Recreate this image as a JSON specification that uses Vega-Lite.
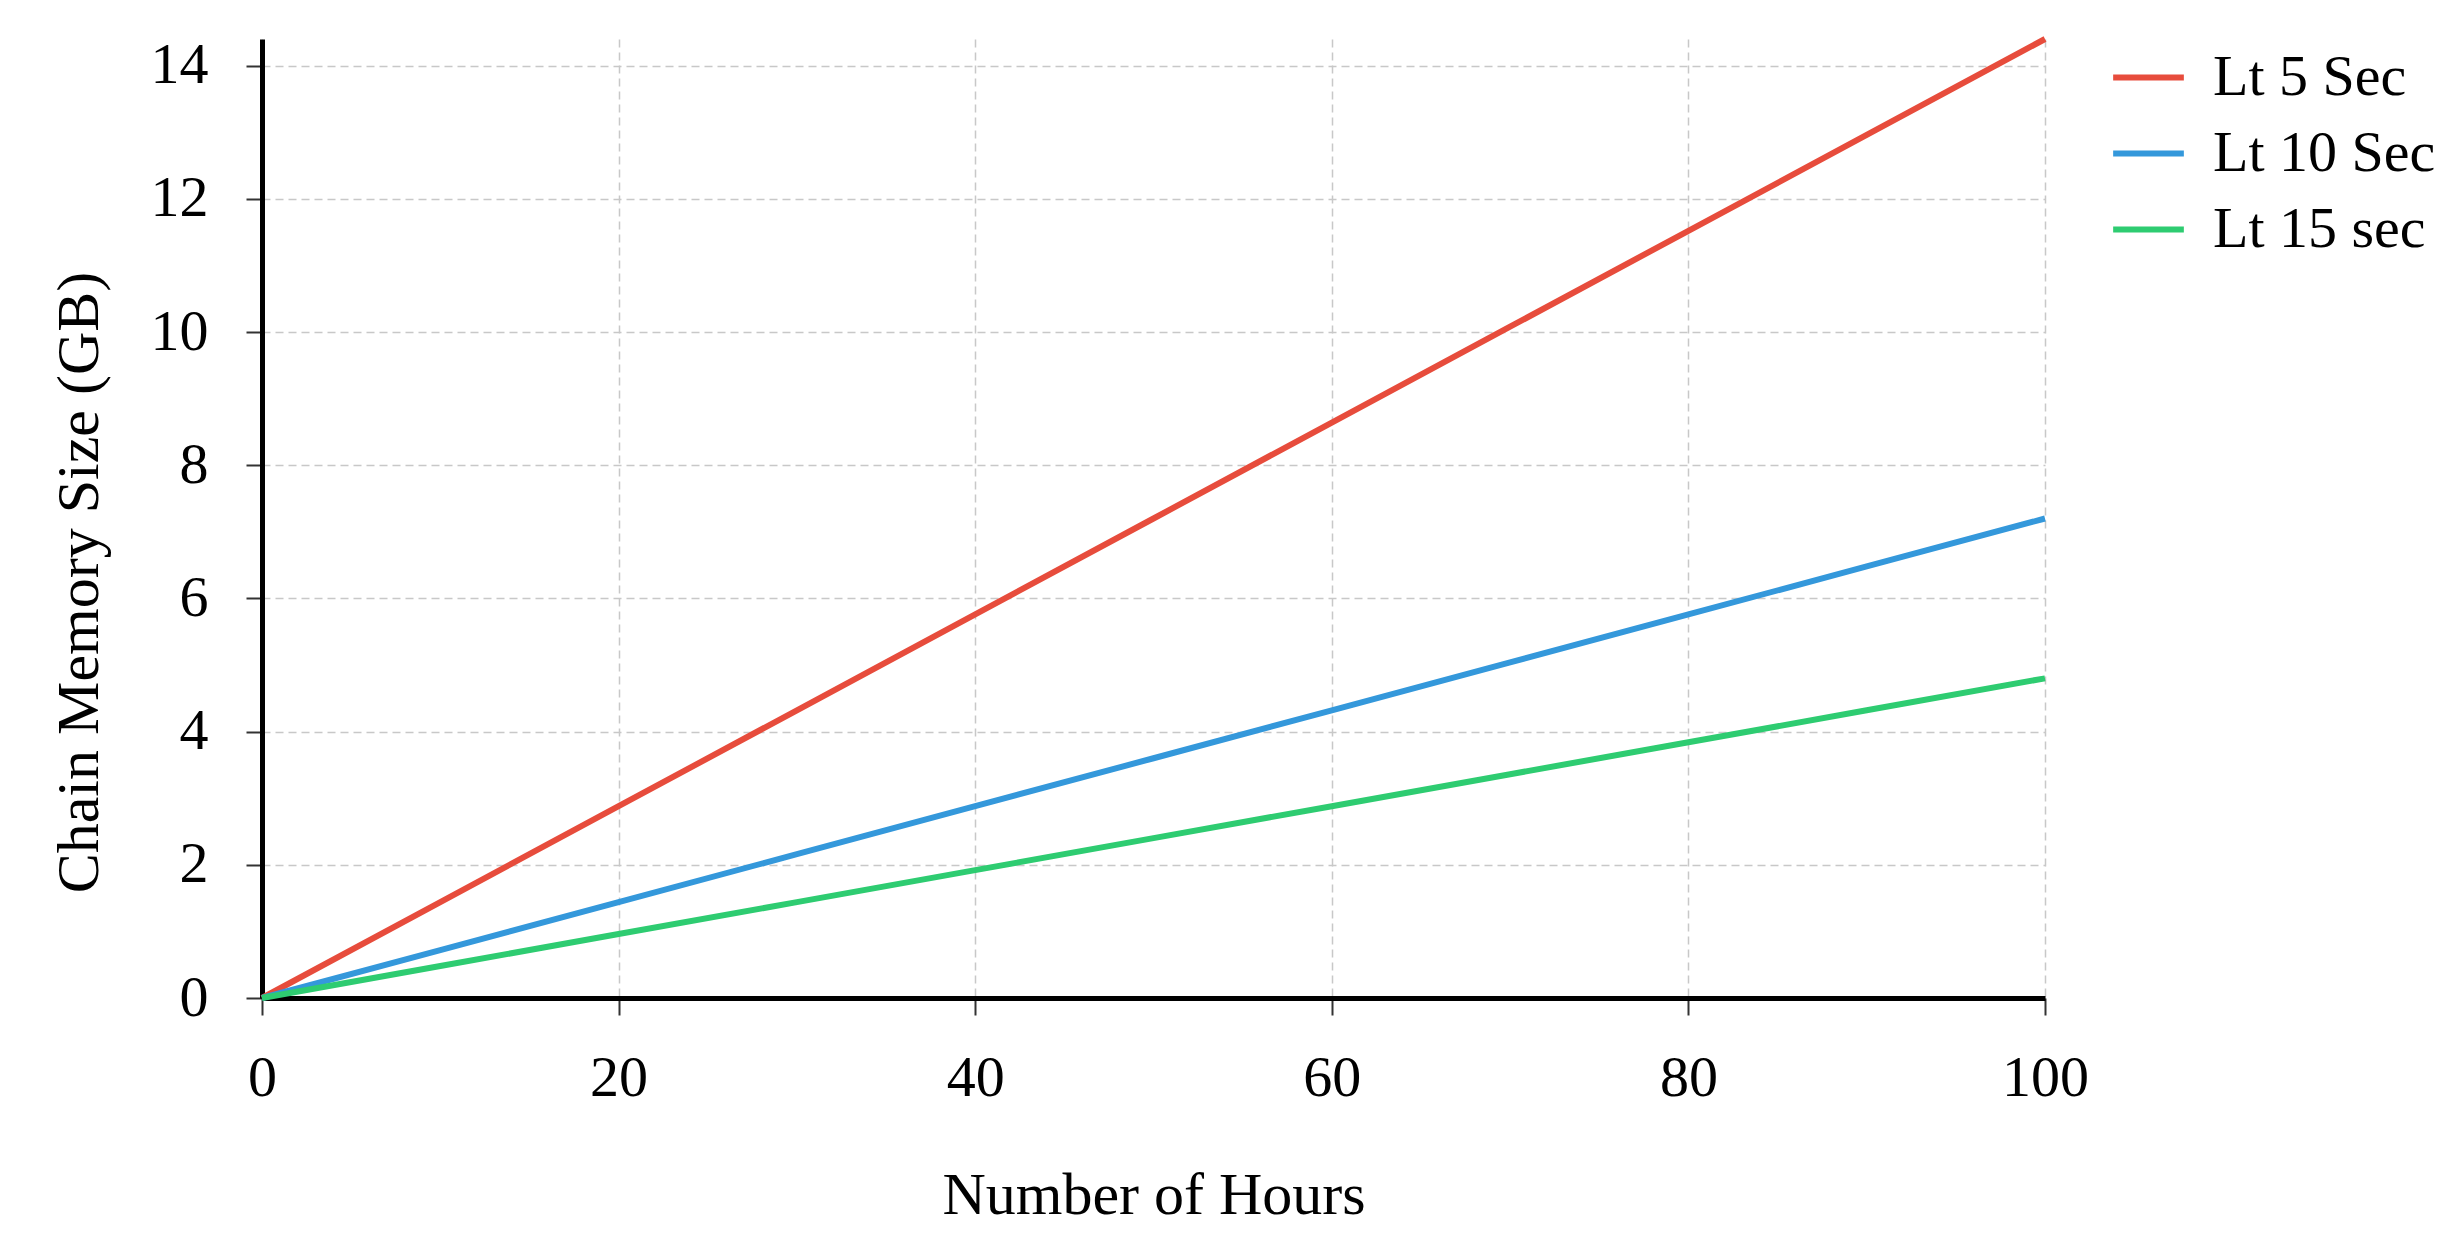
{
  "$schema": "https://vega.github.io/schema/vega-lite/v6.json",
  "autosize": "none",
  "width": 1783,
  "height": 959,
  "padding": {"left": 262, "top": 39, "right": 412, "bottom": 246},
  "background": "white",
  "config": {
    "font": "Liberation Serif",
    "view": {"stroke": null}
  },
  "data": {
    "values": [
      {"hours": 0, "size": 0, "series": "Lt 5 Sec"},
      {"hours": 10, "size": 1.44, "series": "Lt 5 Sec"},
      {"hours": 20, "size": 2.88, "series": "Lt 5 Sec"},
      {"hours": 30, "size": 4.32, "series": "Lt 5 Sec"},
      {"hours": 40, "size": 5.76, "series": "Lt 5 Sec"},
      {"hours": 50, "size": 7.2, "series": "Lt 5 Sec"},
      {"hours": 60, "size": 8.64, "series": "Lt 5 Sec"},
      {"hours": 70, "size": 10.08, "series": "Lt 5 Sec"},
      {"hours": 80, "size": 11.52, "series": "Lt 5 Sec"},
      {"hours": 90, "size": 12.96, "series": "Lt 5 Sec"},
      {"hours": 100, "size": 14.4, "series": "Lt 5 Sec"},
      {"hours": 0, "size": 0, "series": "Lt 10 Sec"},
      {"hours": 10, "size": 0.72, "series": "Lt 10 Sec"},
      {"hours": 20, "size": 1.44, "series": "Lt 10 Sec"},
      {"hours": 30, "size": 2.16, "series": "Lt 10 Sec"},
      {"hours": 40, "size": 2.88, "series": "Lt 10 Sec"},
      {"hours": 50, "size": 3.6, "series": "Lt 10 Sec"},
      {"hours": 60, "size": 4.32, "series": "Lt 10 Sec"},
      {"hours": 70, "size": 5.04, "series": "Lt 10 Sec"},
      {"hours": 80, "size": 5.76, "series": "Lt 10 Sec"},
      {"hours": 90, "size": 6.48, "series": "Lt 10 Sec"},
      {"hours": 100, "size": 7.2, "series": "Lt 10 Sec"},
      {"hours": 0, "size": 0, "series": "Lt 15 sec"},
      {"hours": 10, "size": 0.48, "series": "Lt 15 sec"},
      {"hours": 20, "size": 0.96, "series": "Lt 15 sec"},
      {"hours": 30, "size": 1.44, "series": "Lt 15 sec"},
      {"hours": 40, "size": 1.92, "series": "Lt 15 sec"},
      {"hours": 50, "size": 2.4, "series": "Lt 15 sec"},
      {"hours": 60, "size": 2.88, "series": "Lt 15 sec"},
      {"hours": 70, "size": 3.36, "series": "Lt 15 sec"},
      {"hours": 80, "size": 3.84, "series": "Lt 15 sec"},
      {"hours": 90, "size": 4.32, "series": "Lt 15 sec"},
      {"hours": 100, "size": 4.8, "series": "Lt 15 sec"}
    ]
  },
  "mark": {"type": "line", "strokeWidth": 6, "clip": false},
  "encoding": {
    "x": {
      "field": "hours",
      "type": "quantitative",
      "scale": {"domain": [0, 100], "nice": false, "zero": false},
      "axis": {
        "title": "Number of Hours",
        "values": [0, 20, 40, 60, 80, 100],
        "domainColor": "black",
        "domainWidth": 5,
        "tickColor": "#333333",
        "tickWidth": 2,
        "tickSize": 17,
        "labelFontSize": 58,
        "labelColor": "black",
        "labelPadding": 63,
        "labelBaseline": "middle",
        "labelFlush": false,
        "labelOverlap": false,
        "grid": true,
        "gridColor": "#c8c8c8",
        "gridWidth": 1.5,
        "gridDash": [8, 5],
        "titleFontSize": 60,
        "titleFontWeight": "normal",
        "titleColor": "black",
        "titleBaseline": "alphabetic",
        "titleAnchor": "middle",
        "titleY": 215
      }
    },
    "y": {
      "field": "size",
      "type": "quantitative",
      "scale": {"domain": [0, 14.4], "nice": false},
      "axis": {
        "title": "Chain Memory Size (GB)",
        "values": [0, 2, 4, 6, 8, 10, 12, 14],
        "domainColor": "black",
        "domainWidth": 5,
        "tickColor": "#333333",
        "tickWidth": 2,
        "tickSize": 16,
        "labelFontSize": 58,
        "labelColor": "black",
        "labelPadding": 38,
        "labelBaseline": "middle",
        "labelFlush": false,
        "labelOverlap": false,
        "grid": true,
        "gridColor": "#c8c8c8",
        "gridWidth": 1.5,
        "gridDash": [8, 5],
        "titleFontSize": 60,
        "titleFontWeight": "normal",
        "titleColor": "black",
        "titleBaseline": "alphabetic",
        "titleAngle": -90,
        "titleAlign": "center",
        "titleX": -165,
        "titleY": 543
      }
    },
    "color": {
      "field": "series",
      "type": "nominal",
      "sort": ["Lt 5 Sec", "Lt 10 Sec", "Lt 15 sec"],
      "scale": {
        "domain": ["Lt 5 Sec", "Lt 10 Sec", "Lt 15 sec"],
        "range": ["#e74c3c", "#3498db", "#2ecc71"]
      },
      "legend": {
        "title": null,
        "orient": "none",
        "legendX": 1848,
        "legendY": 0,
        "symbolType": "stroke",
        "symbolSize": 5000,
        "symbolStrokeWidth": 6,
        "labelFontSize": 58,
        "labelLimit": 0,
        "labelColor": "black",
        "labelOffset": 26,
        "rowPadding": 8,
        "padding": 0
      }
    }
  }
}
